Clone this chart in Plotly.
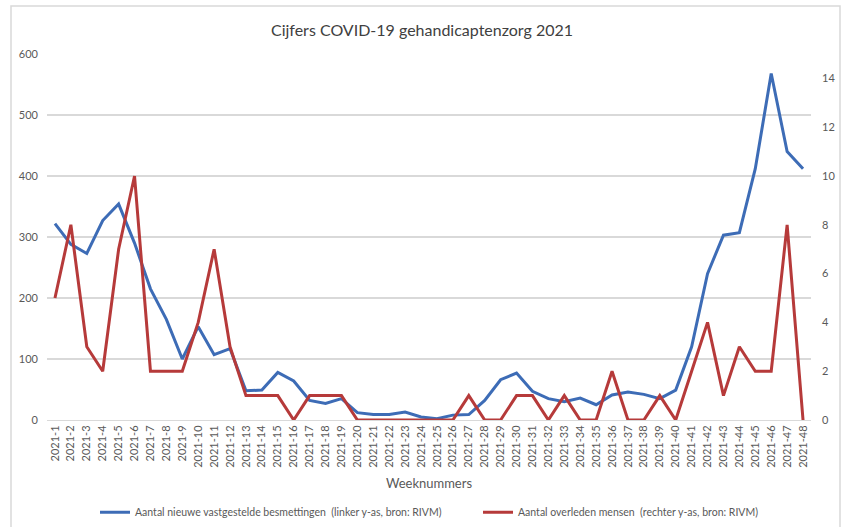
import plotly.graph_objects as go

# ─── Data ────────────────────────────────────────────────────────────────────
weken = [f"2021-{i}" for i in range(1, 49)]

besmettingen = [
    322, 288, 273, 327, 354, 290, 215, 165, 100, 153,
    107, 117, 48, 49, 78, 64, 32, 27, 35, 12,
    9, 9, 13, 5, 2, 8, 9, 32, 66, 77,
    47, 35, 30, 36, 25, 41, 46, 42, 35, 49,
    120, 240, 303, 307, 412, 568, 440, 412,
]

overleden = [
    5, 8, 3, 2, 7, 10, 2, 2, 2, 4,
    7, 3, 1, 1, 1, 0, 1, 1, 1, 0,
    0, 0, 0, 0, 0, 0, 1, 0, 0, 1,
    1, 0, 1, 0, 0, 2, 0, 0, 1, 0,
    2, 4, 1, 3, 2, 2, 8, 0,
]

left_ticks = [0, 100, 200, 300, 400, 500, 600]
right_ticks = [0, 2, 4, 6, 8, 10, 12, 14]

# ─── Style ───────────────────────────────────────────────────────────────────
C_BLAUW = "#3D6CB6"
C_ROOD = "#B63A3A"
C_TEKST = "#595959"
C_GRID = "#D9D9D9"
FONT = "Lato"

_LEGEND = dict(orientation="h", xanchor="left", yref="container", y=0.028,
               yanchor="middle", font=dict(size=10.5, color=C_TEKST),
               itemwidth=30, bgcolor="rgba(0,0,0,0)")

fig = go.Figure()

fig.add_trace(go.Scatter(
    x=weken, y=besmettingen,
    name="Aantal nieuwe vastgestelde besmettingen  (linker y-as, bron: RIVM)",
    mode="lines", line=dict(color=C_BLAUW, width=3),
    yaxis="y", legend="legend",
))

fig.add_trace(go.Scatter(
    x=weken, y=overleden,
    name="Aantal overleden mensen  (rechter y-as, bron: RIVM)",
    mode="lines", line=dict(color=C_ROOD, width=3),
    yaxis="y2", legend="legend2",
))

fig.update_layout(
    width=844, height=527,
    margin=dict(l=47, r=33, t=54, b=107, autoexpand=False),
    plot_bgcolor="white", paper_bgcolor="white",
    font=dict(family=FONT, color=C_TEKST, size=11),
    title=dict(text="Cijfers COVID-19 gehandicaptenzorg 2021",
               x=0.5, xanchor="center", y=0.943, yanchor="middle",
               font=dict(size=16, color="#404040", family=FONT)),
    showlegend=True,
    legend=dict(x=(100 - 47 - 5) / 764, **_LEGEND),
    legend2=dict(x=(483 - 47 - 5) / 764, **_LEGEND),
    xaxis=dict(
        type="category", range=[-0.5, 47.5], automargin=False,
        tickangle=-90, tickfont=dict(size=11, color=C_TEKST),
        showgrid=False, showline=True, linecolor=C_GRID, linewidth=1,
        ticks="", title=dict(text="Weeknummers", font=dict(size=13, color=C_TEKST),
                             standoff=12),
    ),
    yaxis=dict(
        range=[0, 600], tickvals=left_ticks, automargin=False,
        showgrid=True, gridcolor=C_GRID, gridwidth=1.5, zeroline=False,
        tickfont=dict(size=11, color=C_TEKST), ticks="", ticklabelstandoff=8,
    ),
    yaxis2=dict(
        range=[0, 15], tickvals=right_ticks, overlaying="y", side="right",
        automargin=False, showgrid=False, zeroline=False,
        tickfont=dict(size=11, color=C_TEKST), ticks="", ticklabelstandoff=10,
    ),
)

# rand om het grafiekgebied
fig.add_shape(type="rect", xref="paper", yref="paper",
              x0=(11 - 47) / 764, x1=(840 - 47) / 764,
              y0=(420 - 540) / 366, y1=(420 - 6) / 366,
              line=dict(color="#D9D9D9", width=1.5), layer="below")

# standaard body-marge van de pagina weghalen
fig.write_html("out.html", config={"displayModeBar": False},
               post_script="document.body.style.margin='0';")
